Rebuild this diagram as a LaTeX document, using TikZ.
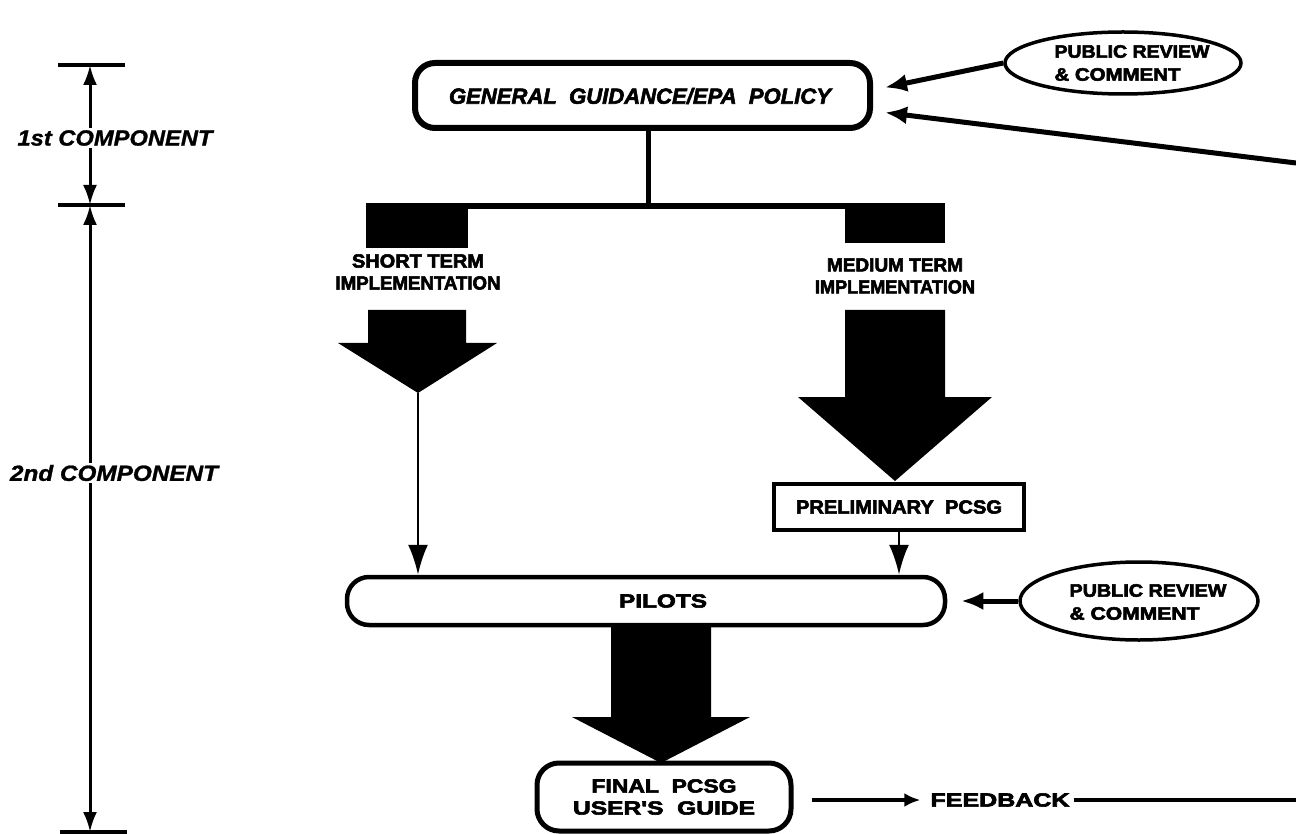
\documentclass[tikz,border=0pt]{standalone}
\usepackage{fontspec}
\usepackage{graphicx}
\setmainfont{Liberation Sans}
\newfontfamily\heavy[FakeBold=3]{Liberation Sans Bold}
\newfontfamily\heavyit[FakeBold=2.5]{Liberation Sans Bold Italic}
\newfontfamily\dimit[FakeBold=1.2]{Liberation Sans Bold Italic}
\usetikzlibrary{arrows.meta,shapes.geometric,calc}
\newcommand\fw[2]{\resizebox{#1pt}{\height}{#2}}
\begin{document}
\begin{tikzpicture}[x=1pt,y=-1pt,
  lab/.style={font=\heavy\fontsize{19}{22}\selectfont, align=center, inner sep=0pt},
  ellab/.style={font=\heavy\fontsize{18}{23}\selectfont, align=left, inner sep=0pt},
  dimlab/.style={font=\dimit\fontsize{22}{24}\selectfont, fill=white, inner sep=2pt},
  dimline/.style={line width=3, {Latex[length=20pt,width=14pt]}-{Latex[length=20pt,width=14pt]}},
  tick/.style={line width=4},
  rbox/.style={draw, line width=4.5, rounded corners=20pt, inner sep=0pt},
  arrw/.style={line width=5, -{Latex[length=22pt,width=18pt]}},
  thinarr/.style={line width=2.5, -{Latex[length=30pt,width=20pt]}},
  ell/.style={draw, ellipse, line width=3.5, inner sep=0pt}
]
\useasboundingbox (0,0) rectangle (1296,834);
\fill[white] (0,0) rectangle (1296,834);

% ---- dimension scale on the left
\coordinate (d1) at (90,65);
\coordinate (d2) at (90,205);
\coordinate (d3) at (90,832);
\draw[tick] (58,65) -- (125,65);
\draw[tick] (58,205) -- (125,205);
\draw[tick] (60,832) -- (127,832);
\draw[dimline] (d1) -- (d2);
\draw[dimline] (d2) -- (d3);
\node[dimlab] (c1) at (115,138) {\fw{195}{1st COMPONENT}};
\node[dimlab] (c2) at (114,473) {\fw{208}{2nd COMPONENT}};

% ---- general guidance box
\node[rbox, line width=6, minimum width=455pt, minimum height=65pt] (gen) at (642.5,95.5) {};
\node[font=\heavyit\fontsize{22}{24}\selectfont, inner sep=0pt] (gentext) at (640,96)
  {\fw{382}{GENERAL\ \ GUIDANCE/EPA\ \ POLICY}};

% ---- public review (top)
\node[ell, minimum width=236pt, minimum height=62pt] (te) at (1123,63) {};
\node[ellab] (tetext) at (1132,63) {\fw{155}{PUBLIC REVIEW}\\\fw{126}{\& COMMENT}};
\draw[arrw] (te.west) -- ($(gen.east)+(12,-8)$);
\coordinate (fbtop) at (1296,163);
\draw[arrw] (fbtop) -- ($(gen.east)+(12,17)$);

% ---- stem and bar
\coordinate (stem) at (648,206);
\draw[line width=5] (stem |- gen.south) -- (stem);
\fill (366,203) rectangle (945,209);
\fill (366,203) rectangle (468,248);
\fill (845,203) rectangle (945,243);

% ---- short term
\node[lab] (st) at (418,272) {\fw{132}{SHORT TERM}\\\fw{165}{IMPLEMENTATION}};
\fill (368,310) -- (466,310) -- (466,343) -- (497,343) -- (418,393) -- (338,343) -- (368,343) -- cycle;
\coordinate (stip) at (418,393);

% ---- medium term
\node[lab] (mt) at (895,276) {\fw{136}{MEDIUM TERM}\\\fw{160}{IMPLEMENTATION}};
\fill (845,310) -- (945,310) -- (945,397) -- (992,397) -- (895,481) -- (798,397) -- (845,397) -- cycle;

% ---- preliminary
\node[draw, line width=4, minimum width=250pt, minimum height=46pt, inner sep=0pt] (prelim) at (899,506.5) {};
\node[lab] (prelimtext) at (899,507) {\fw{206}{PRELIMINARY\ \ PCSG}};

% ---- pilots
\node[rbox, rounded corners=22pt, minimum width=598pt, minimum height=48pt] (pilots) at (646,601) {};
\node[lab] (pilotstext) at (663,601) {\fw{88}{PILOTS}};
\draw[thinarr] (stip) -- (stip |- pilots.north);
\draw[thinarr] (prelim.south) -- (prelim.south |- pilots.north);

% ---- public review (pilots)
\node[ell, minimum width=238pt, minimum height=78pt] (pe) at (1139,601) {};
\node[ellab] (petext) at (1148,602) {\fw{157}{PUBLIC REVIEW}\\\fw{130}{\& COMMENT}};
\draw[arrw] (pe.west) -- ($(pilots.east)+(14,0)$);

% ---- pilots to final
\fill (611,625) -- (711,625) -- (711,717) -- (750,717) -- (661,763) -- (572,717) -- (611,717) -- cycle;

% ---- final
\node[rbox, line width=5, rounded corners=22pt, minimum width=254pt, minimum height=68pt] (final) at (664,797) {};
\node[lab] (finaltext) at (664,797) {\fw{145}{FINAL\ \ PCSG}\\\fw{182}{USER'S\ \ GUIDE}};

% ---- feedback
\node[lab] (fb) at (1000,800) {\fw{139}{FEEDBACK}};
\coordinate (fbend) at (1296,800);
\draw[line width=3.5, -{Latex[length=16pt,width=14pt]}] (final.east |- fb.west) ++(18,0) -- ($(fb.west)+(-10,0)$);
\draw[line width=3.5, shorten <=4pt] (fb.east) -- (fbend);
\end{tikzpicture}
\end{document}
